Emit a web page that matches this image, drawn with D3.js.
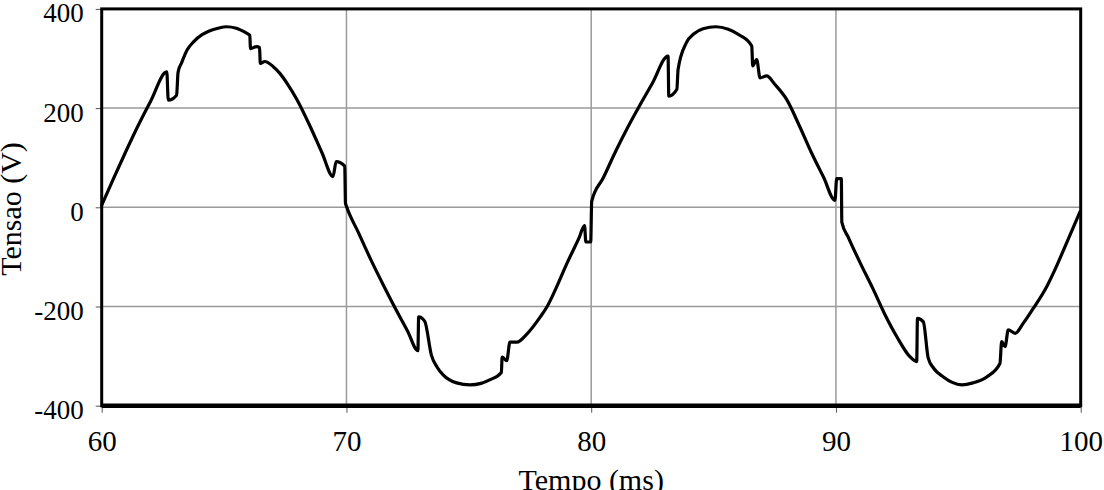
<!DOCTYPE html>
<html>
<head>
<meta charset="utf-8">
<script src="https://cdn.jsdelivr.net/npm/d3@7"></script>
<style>
  html, body { margin: 0; padding: 0; background: #fff; overflow: hidden; }
  svg { display: block; }
  text { font-family: "Liberation Serif", "DejaVu Serif", serif; fill: #000; }
</style>
</head>
<body>
<svg id="chart" width="1104" height="490"></svg>
<script>
// ---- data ----
const timeMs = [
  60.00, 60.50, 61.00, 61.50, 62.00, 62.66, 62.72, 63.06, 63.12, 63.27, 63.50, 63.74, 64.10, 64.42, 64.75, 65.10, 65.50, 65.92, 66.05, 66.08, 66.33, 66.45, 66.48, 66.67, 67.00, 67.28, 67.60, 67.98, 68.50, 69.00, 69.45, 69.58, 69.93, 69.96, 70.00,
  70.50, 71.00, 71.50, 72.00, 72.50, 72.92, 72.95, 73.20, 73.47, 73.70, 73.95, 74.50, 75.05, 75.50, 75.85, 76.33, 76.36, 76.55, 76.68, 76.96, 77.40, 77.92, 78.20, 78.50, 79.00, 79.50, 79.73, 79.78, 79.98, 80.02,
  80.50, 81.00, 81.50, 82.00, 82.50, 83.14, 83.17, 83.50, 83.55, 83.89, 84.20, 84.57, 85.10, 85.60, 86.07, 86.56, 86.60, 86.76, 86.90, 87.17, 87.50, 87.99, 88.50, 89.00, 89.50, 89.96, 90.03, 90.22, 90.24,
  90.50, 91.00, 91.50, 92.00, 92.50, 93.00, 93.30, 93.33, 93.57, 93.77, 94.00, 94.39, 94.75, 95.14, 95.60, 96.16, 96.70, 96.77, 96.91, 97.04, 97.32, 97.65, 98.06, 98.61, 99.00, 99.50, 99.97
];
const voltageV = [
  4, 60, 114, 166, 214, 273, 216, 226, 272, 292, 318, 333, 348, 356, 361, 364, 361, 351, 347, 320, 324, 322, 290, 294, 284, 270, 248, 217, 165, 110, 62, 92, 83, 8, 2,
  -52, -106, -156, -204, -250, -289, -221, -230, -298, -322, -338, -354, -358, -355, -348, -333, -302, -309, -272, -272, -254, -221, -200, -170, -114, -62, -37, -70, -70, 12,
  60, 113, 162, 207, 250, 305, 224, 238, 278, 332, 350, 360, 364, 359, 347, 325, 285, 298, 261, 265, 248, 217, 165, 110, 60, 14, 58, 58, -30,
  -60, -113, -163, -216, -262, -300, -311, -224, -231, -304, -325, -342, -353, -358, -354, -342, -315, -271, -281, -247, -254, -234, -204, -160, -120, -63, -9
];
const xTicks = [60, 70, 80, 90, 100];
const yTicks = [-400, -200, 0, 200, 400];
const xTitle = "Tempo (ms)";
const yTitle = "Tensao (V)";

// ---- layout ----
const serif = "'Liberation Serif', 'DejaVu Serif', serif";
const svg = d3.select("#chart");
const pLeft = 101.7, pRight = 1080.7, pTop = 8.9, pBottom = 405.7;

const x = d3.scaleLinear().domain([60, 100]).range([pLeft, pRight]);
const y = d3.scaleLinear().domain([-400, 400]).range([pBottom, pTop]);

// gridlines
svg.append("g").selectAll("line")
  .data(xTicks.filter(d => d > 60 && d < 100))
  .join("line")
  .attr("x1", d => x(d)).attr("x2", d => x(d))
  .attr("y1", pTop).attr("y2", pBottom)
  .attr("stroke", "#9a9a9a").attr("stroke-width", 1.5);
svg.append("g").selectAll("line")
  .data(yTicks.filter(d => d > -400 && d < 400))
  .join("line")
  .attr("x1", pLeft).attr("x2", pRight)
  .attr("y1", d => y(d)).attr("y2", d => y(d))
  .attr("stroke", "#9a9a9a").attr("stroke-width", 1.5);

// axes (ticks + labels)
const fmt = d => String(d);
const xAxis = d3.axisBottom(x).tickValues(xTicks).tickSize(7).tickPadding(18).tickFormat(fmt);
const gx = svg.append("g").attr("transform", `translate(0,${pBottom})`).call(xAxis);
gx.attr("font-family", null).style("font-family", serif);
gx.select(".domain").remove();
gx.selectAll(".tick line").attr("stroke", "#555").attr("stroke-width", 1);
gx.selectAll(".tick text")
  .style("font-family", serif)
  .style("font-size", "29px").attr("fill", "#000")
  .attr("dy", "0.71em");

const yAxis = d3.axisLeft(y).tickValues(yTicks).tickSize(6).tickPadding(12).tickFormat(fmt);
const gy = svg.append("g").attr("transform", `translate(${pLeft},0)`).call(yAxis);
gy.attr("font-family", null).style("font-family", serif);
gy.select(".domain").remove();
gy.selectAll(".tick line").attr("stroke", "#555").attr("stroke-width", 1);
gy.selectAll(".tick text")
  .style("font-family", serif)
  .style("font-size", "27px").attr("fill", "#000")
  .attr("dy", "0.48em");

// frame
svg.append("rect")
  .attr("x", pLeft).attr("y", pTop)
  .attr("width", pRight - pLeft).attr("height", pBottom - pTop)
  .attr("fill", "none").attr("stroke", "#000").attr("stroke-width", 3);
svg.append("line")
  .attr("x1", pLeft).attr("x2", pRight)
  .attr("y1", pBottom).attr("y2", pBottom)
  .attr("stroke", "#000").attr("stroke-width", 4.5);

// waveform
const pts = timeMs.map((t, i) => [t, voltageV[i]]);
const line = d3.line().x(d => x(d[0])).y(d => y(d[1])).curve(d3.curveMonotoneX);
svg.append("path")
  .datum(pts)
  .attr("d", line)
  .attr("fill", "none")
  .attr("stroke", "#000")
  .attr("stroke-width", 3.2)
  .attr("stroke-linejoin", "round")
  .attr("stroke-linecap", "round");

// titles
svg.append("text")
  .attr("x", x(80)).attr("y", 490)
  .attr("text-anchor", "middle")
  .style("font-family", serif)
  .style("font-size", "30px")
  .text(xTitle);
svg.append("text")
  .attr("transform", "translate(21,209) rotate(-90)")
  .attr("text-anchor", "middle")
  .style("font-family", serif)
  .style("font-size", "30px")
  .text(yTitle);
</script>
</body>
</html>
